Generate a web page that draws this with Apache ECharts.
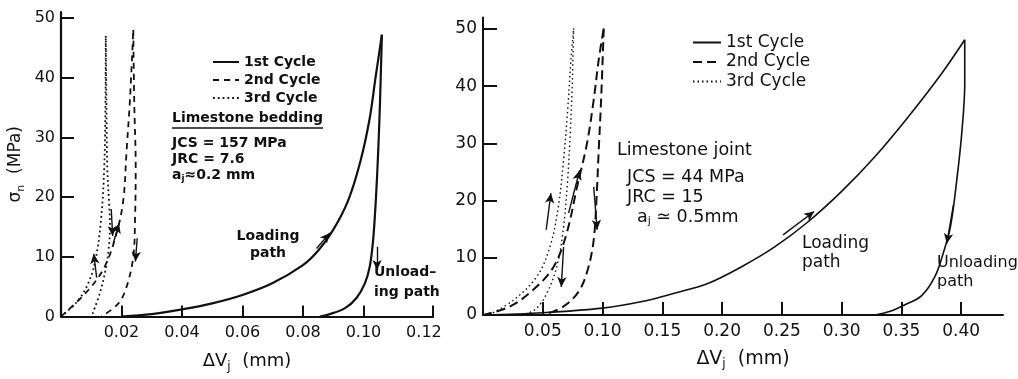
<!DOCTYPE html>
<html>
<head>
<meta charset="utf-8">
<script src="https://cdn.jsdelivr.net/npm/echarts@6/dist/echarts.min.js"></script>
<style>
  html, body { margin: 0; background: #fff; }
  #chart { width: 1018px; height: 379px; }
</style>
</head>
<body>
<div id="chart"></div>
<script>
// left panel: limestone bedding, [dV (mm), sigma_n (MPa)]
const bedXTicks = [0.02, 0.04, 0.06, 0.08, 0.10, 0.12];
const bedYTicks = [0, 10, 20, 30, 40, 50];
const bedLoad1 = [[0.02, 0], [0.03, 0.4], [0.04, 1.2], [0.05, 2.2], [0.06, 3.6], [0.07, 5.6], [0.08, 8.6], [0.085, 11], [0.09, 14.5], [0.095, 19.5], [0.099, 26], [0.102, 33], [0.104, 40], [0.1061, 47.2]];
const bedUnload1 = [[0.1061, 47.2], [0.1055, 36.3], [0.1049, 27.9], [0.1041, 19.5], [0.1032, 12.8], [0.1021, 8.4], [0.1005, 5.6], [0.0977, 3.1], [0.0939, 1.4], [0.0889, 0.4], [0.0856, 0]];
const bedLoad2 = [[0, 0], [0.009, 4.4], [0.0145, 8.4], [0.0184, 14], [0.0206, 19.5], [0.0217, 27.9], [0.0228, 36.3], [0.0239, 48]];
const bedUnload2 = [[0.0239, 48], [0.0242, 36.3], [0.0247, 25], [0.0245, 16.7], [0.0239, 10], [0.0217, 5], [0.019, 2.2], [0.0134, 0]];
const bedLoad3 = [[0, 0], [0.005, 2.3], [0.0085, 5], [0.0112, 9], [0.0132, 16], [0.0143, 25], [0.0147, 36], [0.0148, 47]];
const bedUnload3 = [[0.0148, 47], [0.015, 36], [0.0153, 25], [0.0159, 19], [0.0162, 15], [0.0157, 11], [0.0148, 8], [0.0129, 4], [0.0101, 0]];
const bedArrows = [
  [[0.0845, 11.4], [0.0889, 14.0]],
  [[0.1045, 11.7], [0.1045, 7.8]],
  [[0.0173, 12.3], [0.0192, 15.6]],
  [[0.0252, 13.1], [0.0246, 9.2]],
  [[0.0118, 6.5], [0.0108, 10.5]],
  [[0.0166, 18], [0.0171, 13.5]]
];

// right panel: limestone joint
const jointXTicks = [0.05, 0.10, 0.15, 0.20, 0.25, 0.30, 0.35, 0.40];
const jointYTicks = [0, 10, 20, 30, 40, 50];
const jointLoad1 = [[0, 0], [0.05, 0.4], [0.1, 1.2], [0.132, 2.3], [0.16, 3.8], [0.188, 5.5], [0.216, 8.4], [0.244, 11.9], [0.272, 16.3], [0.3, 21.6], [0.328, 27.7], [0.356, 34.7], [0.384, 42.3], [0.403, 48.1]];
const jointUnload1 = [[0.403, 48.1], [0.403, 40.5], [0.4005, 31.8], [0.396, 23.0], [0.391, 15.4], [0.385, 10.8], [0.378, 6.7], [0.367, 3.4], [0.353, 1.8], [0.34, 0.6], [0.328, 0]];
const jointLoad2 = [[0, 0], [0.0227, 1.5], [0.042, 4.4], [0.059, 8.4], [0.07, 14.3], [0.0787, 22.4], [0.087, 30], [0.0926, 37.6], [0.0968, 44.6], [0.101, 50.1]];
const jointUnload2 = [[0.101, 50.1], [0.0988, 37.6], [0.0968, 28.8], [0.0949, 20.1], [0.0926, 13.1], [0.0876, 7.9], [0.08, 4.1], [0.0674, 1.5], [0.0506, 0]];
const jointLoad3 = [[0.005, 0], [0.0255, 2.6], [0.045, 6.7], [0.056, 11.9], [0.063, 18.9], [0.0674, 27.1], [0.0708, 35.8], [0.0736, 44.6], [0.0758, 50.1]];
const jointUnload3 = [[0.0758, 50.1], [0.0747, 40.5], [0.073, 31.8], [0.0708, 23.6], [0.0674, 15.4], [0.0624, 9], [0.0548, 4.4], [0.045, 1.2], [0.034, 0]];
const jointArrows = [
  [[0.251, 14], [0.277, 18.1]],
  [[0.3935, 19.2], [0.388, 12.5]],
  [[0.0529, 14.9], [0.0568, 21.3]],
  [[0.0716, 17.8], [0.0809, 25.3]],
  [[0.0674, 11.9], [0.0655, 4.9]],
  [[0.0926, 22.4], [0.0955, 14.9]]
];

const cycles = ['1st Cycle', '2nd Cycle', '3rd Cycle'];
const ink = '#111';
const font = 'DejaVu Sans';

const chart = echarts.init(document.getElementById('chart'));

const arrowLine = (pairs) => ({
  silent: true,
  symbol: ['none', 'arrow'],
  symbolSize: [7, 10],
  label: { show: false },
  lineStyle: { color: ink, width: 1.4, type: 'solid' },
  data: pairs.map((p) => [{ coord: p[0] }, { coord: p[1] }])
});

const curve = (name, data, axis, width, dash, extra) => Object.assign({
  name: name,
  type: 'line',
  data: data,
  xAxisIndex: axis,
  yAxisIndex: axis,
  smooth: 0.35,
  symbol: 'none',
  lineStyle: { color: ink, width: width, type: dash },
  itemStyle: { color: ink }
}, extra || {});

// right panel series get a trailing space so the two legends stay apart
const rn = (s) => s + ' ';

const rich = (big, small) => ({
  t: { fontSize: big, lineHeight: 22, fontFamily: font, color: ink },
  s: { fontSize: small, lineHeight: 12, verticalAlign: 'bottom', fontFamily: font, color: ink }
});

const axisCommon = {
  axisLine: { lineStyle: { color: ink, width: 2.2 } },
  axisTick: { inside: true, lineStyle: { color: ink, width: 2 } },
  splitLine: { show: false },
  axisLabel: { color: ink, fontFamily: font }
};

const txt = (x, y, text, size, weight, extra) => ({
  type: 'text', x: x, y: y, silent: true,
  style: Object.assign({
    text: text, fill: ink, font: weight + ' ' + size + 'px "' + font + '"',
    verticalAlign: 'middle', align: 'left'
  }, extra || {})
});

const hideSymbol = { color: 'transparent', borderColor: 'transparent', borderWidth: 0, opacity: 0 };

const option = {
  animation: false,
  backgroundColor: '#fff',
  grid: [
    { left: 61, top: 12, width: 372, height: 304.5 },
    { left: 483, top: 17.5, width: 520, height: 297.5 }
  ],
  xAxis: [
    Object.assign({}, axisCommon, {
      type: 'value', gridIndex: 0, min: 0, max: 0.123,
      axisTick: Object.assign({}, axisCommon.axisTick, { length: 11, customValues: [0.02, 0.04, 0.06, 0.08, 0.10, 0.123] }),
      axisLabel: { color: ink, fontFamily: font, fontSize: 16, margin: 8, customValues: bedXTicks, formatter: (v) => v.toFixed(2) },
      name: '{t|ΔV}{s|j}{t|  (mm)}', nameLocation: 'middle', nameGap: 34,
      nameTextStyle: { rich: rich(18, 12) }
    }),
    Object.assign({}, axisCommon, {
      type: 'value', gridIndex: 1, min: 0, max: 0.435,
      axisLine: { lineStyle: { color: ink, width: 2 } },
      axisTick: Object.assign({}, axisCommon.axisTick, { length: 13, customValues: jointXTicks }),
      axisLabel: { color: ink, fontFamily: font, fontSize: 17, margin: 8, customValues: jointXTicks, formatter: (v) => v.toFixed(2) },
      name: '{t|ΔV}{s|j}{t|  (mm)}', nameLocation: 'middle', nameGap: 33,
      nameTextStyle: { rich: rich(19, 12) }
    })
  ],
  yAxis: [
    Object.assign({}, axisCommon, {
      type: 'value', gridIndex: 0, min: 0, max: 51,
      axisTick: Object.assign({}, axisCommon.axisTick, { length: 13, customValues: bedYTicks }),
      axisLabel: { color: ink, fontFamily: font, fontSize: 16, margin: 6, customValues: bedYTicks },
      name: '{t|σ}{s|n}{t|  (MPa)}', nameLocation: 'middle', nameRotate: 90, nameGap: 34,
      nameTextStyle: { rich: rich(17, 11) }
    }),
    Object.assign({}, axisCommon, {
      type: 'value', gridIndex: 1, min: 0, max: 52,
      axisLine: { lineStyle: { color: ink, width: 2 } },
      axisTick: Object.assign({}, axisCommon.axisTick, { length: 14, customValues: jointYTicks }),
      axisLabel: { color: ink, fontFamily: font, fontSize: 17, margin: 6, customValues: jointYTicks }
    })
  ],
  legend: [
    {
      orient: 'vertical', left: 207, top: 50, itemWidth: 26, itemHeight: 14, itemGap: 4,
      selectedMode: false, data: cycles, itemStyle: hideSymbol,
      textStyle: { color: ink, fontFamily: font, fontSize: 14, fontWeight: 'bold' }
    },
    {
      orient: 'vertical', left: 687, top: 29, itemWidth: 28, itemHeight: 14, itemGap: 2.5,
      selectedMode: false, data: cycles.map(rn), itemStyle: hideSymbol,
      textStyle: { color: ink, fontFamily: font, fontSize: 17 }
    }
  ],
  series: [
    curve(cycles[0], bedLoad1, 0, 2.2, 'solid', { markLine: arrowLine(bedArrows) }),
    curve(cycles[0], bedUnload1, 0, 2.2, 'solid'),
    curve(cycles[1], bedLoad2, 0, 1.8, [6, 5]),
    curve(cycles[1], bedUnload2, 0, 1.8, [6, 5]),
    curve(cycles[2], bedLoad3, 0, 1.8, [1.8, 3]),
    curve(cycles[2], bedUnload3, 0, 1.8, [1.8, 3]),
    curve(rn(cycles[0]), jointLoad1, 1, 1.6, 'solid', { markLine: arrowLine(jointArrows) }),
    curve(rn(cycles[0]), jointUnload1, 1, 1.6, 'solid'),
    curve(rn(cycles[1]), jointLoad2, 1, 2, [9, 5]),
    curve(rn(cycles[1]), jointUnload2, 1, 2, [9, 5]),
    curve(rn(cycles[2]), jointLoad3, 1, 1.4, [1.5, 3]),
    curve(rn(cycles[2]), jointUnload3, 1, 1.4, [1.5, 3])
  ],
  graphic: [
    txt(172, 118, 'Limestone bedding', 14, 'bold'),
    { type: 'line', silent: true, shape: { x1: 172, y1: 128, x2: 323, y2: 128 }, style: { stroke: ink, lineWidth: 1.5 } },
    txt(172, 143, 'JCS = 157 MPa', 14, 'bold'),
    txt(172, 159, 'JRC = 7.6', 14, 'bold'),
    txt(172, 175, '{a|a}{s|j}{a|≈0.2 mm}', 14, 'bold', { rich: {
      a: { fontSize: 14, fontWeight: 'bold', fontFamily: font, lineHeight: 16 },
      s: { fontSize: 9, fontWeight: 'bold', fontFamily: font, lineHeight: 8, verticalAlign: 'bottom' } } }),
    txt(268, 245, 'Loading\npath', 14, 'bold', { align: 'center', lineHeight: 17 }),
    txt(374, 282, 'Unload–\ning path', 14, 'bold', { lineHeight: 20 }),
    txt(617, 150, 'Limestone joint', 17.5, 'normal'),
    txt(627, 177, 'JCS = 44 MPa', 17.5, 'normal'),
    txt(627, 197, 'JRC = 15', 17.5, 'normal'),
    txt(637, 217, '{a|a}{s|j}{a| ≃ 0.5mm}', 17.5, 'normal', { rich: {
      a: { fontSize: 17.5, fontFamily: font, lineHeight: 20 },
      s: { fontSize: 11, fontFamily: font, lineHeight: 10, verticalAlign: 'bottom' } } }),
    txt(802, 253, 'Loading\npath', 17, 'normal', { lineHeight: 19 }),
    txt(937, 272, 'Unloading\npath', 16, 'normal', { lineHeight: 19 })
  ]
};

chart.setOption(option);
</script>
</body>
</html>
